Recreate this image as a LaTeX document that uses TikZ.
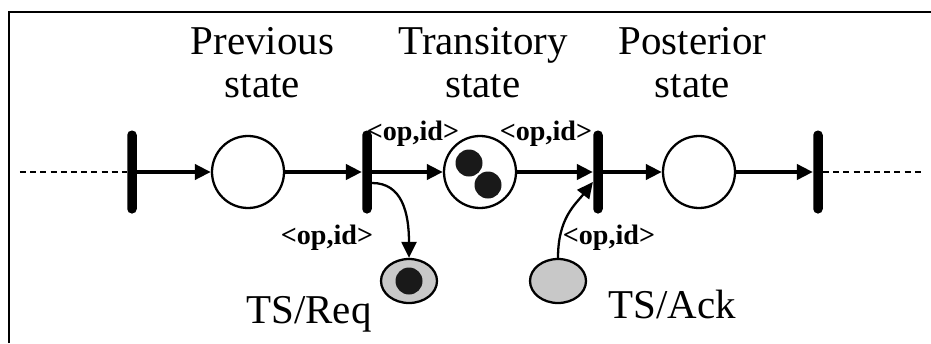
\documentclass[tikz,border=0pt]{standalone}
\usepackage{fontspec}
\setmainfont{Liberation Serif}
\usetikzlibrary{arrows.meta,shapes.geometric}
\tikzset{>/.tip={Triangle[length=0.32cm,width=0.3cm]}}
\definecolor{tsgray}{RGB}{200,200,200}
\newcommand{\opid}{\textbf{<op,id>}}

\begin{document}
\begin{tikzpicture}[
  placenode/.style={circle,draw,line width=1.3pt,minimum size=1.44cm,inner sep=0pt},
  transbar/.style={rectangle,fill=black,rounded corners=0.09cm,minimum width=0.19cm,minimum height=1.66cm,inner sep=0pt},
  tokendot/.style={circle,fill=black!90,minimum size=0.54cm,inner sep=0pt},
  tsplace/.style={ellipse,draw,fill=tsgray,line width=1.3pt,minimum width=1.12cm,minimum height=0.88cm,inner sep=0pt},
  titletext/.style={align=center,font=\fontsize{23.3pt}{24.5pt}\selectfont,inner sep=0pt},
  oplabel/.style={font=\fontsize{16pt}{18pt}\selectfont,inner sep=0pt},
  arc/.style={->,line width=2.2pt},
  thinarc/.style={->,line width=1.3pt}
]
\useasboundingbox (0,0) rectangle (18.62,6.86);
\draw[line width=1.5pt] (0.18,0) -- (0.18,6.62) -- (18.62,6.62);

% transitions
\node[transbar] (t1) at (2.64,3.42) {};
\node[transbar] (t2) at (7.34,3.42) {};
\node[transbar] (t3) at (11.96,3.42) {};
\node[transbar] (t4) at (16.36,3.42) {};
\coordinate (lend) at (0.40,3.42);
\coordinate (rend) at (18.50,3.42);

% places
\node[placenode] (prev) at (4.96,3.42) {};
\node[placenode] (trans) at (9.60,3.42) {};
\node[placenode] (post) at (13.98,3.42) {};
\node[tokendot] (k1) at (9.38,3.60) {};
\node[tokendot] (k2) at (9.76,3.16) {};
\node[tsplace] (req) at (8.18,1.24) {};
\node[tokendot] (k3) at (req) {};
\node[tsplace] (ack) at (11.16,1.24) {};

% texts
\node[titletext] (prevlbl) at (5.25,5.60) {Previous\\state};
\node[titletext] (translbl) at (9.66,5.60) {Transitory\\state};
\node[titletext] (postlbl) at (13.85,5.60) {Posterior\\state};
\node[titletext,anchor=base] (reqlbl) at (6.18,0.40) {TS/Req};
\node[titletext,anchor=base] (acklbl) at (13.45,0.50) {TS/Ack};
\node[oplabel] (op1) at (8.26,4.18) {\opid};
\node[oplabel] (op2) at (10.92,4.18) {\opid};
\node[oplabel] (op3) at (6.54,2.10) {\opid};
\node[oplabel] (op4) at (12.18,2.10) {\opid};

% arcs
\draw[dash pattern=on 3.4pt off 2.4pt,line width=1.5pt] (lend) -- (t1);
\draw[dash pattern=on 3.4pt off 2.4pt,line width=1.5pt] (t4) -- (rend);
\draw[arc] (t1) -- (prev);
\draw[arc] (prev) -- (t2);
\draw[arc] (t2) -- (trans);
\draw[arc] (trans) -- (t3);
\draw[arc] (t3) -- (post);
\draw[arc] (post) -- (t4);
\draw[thinarc] ([yshift=-0.22cm]t2.east) .. controls +(0.6,0) and +(0,0.9) .. (req.north);
\draw[thinarc] (ack.north) .. controls +(0,0.8) and +(-0.35,-0.45) .. ([yshift=-0.2cm]t3.west);
\end{tikzpicture}
\end{document}
